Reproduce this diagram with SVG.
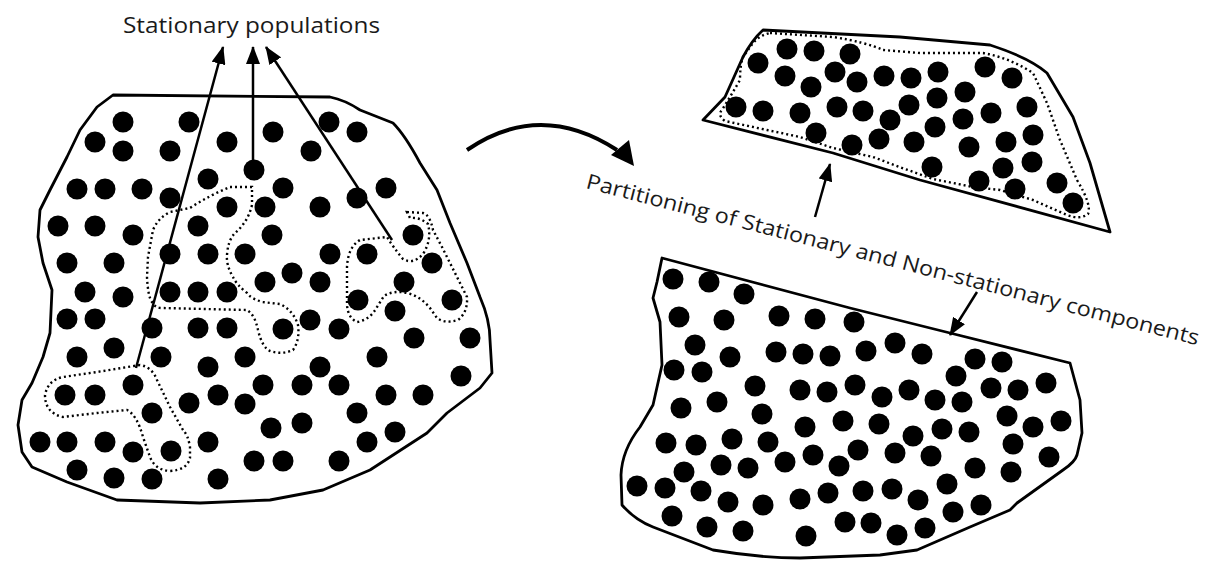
<svg xmlns="http://www.w3.org/2000/svg" width="1211" height="562" viewBox="0 0 1211 562">
<style>
.d{fill:#000}
.ol{fill:none;stroke:#000;stroke-width:2.8;stroke-linejoin:round}
.dt{fill:none;stroke:#000;stroke-width:2.4;stroke-dasharray:2 3}
.ar{fill:none;stroke:#000;stroke-width:2.5}
.tx{font-family:"Open Sans","Noto Sans",sans-serif;fill:#1a1a1a}
</style>
<defs>
<marker id="ah" viewBox="0 0 18 14" refX="17" refY="7" markerWidth="18" markerHeight="14" markerUnits="userSpaceOnUse" orient="auto"><path d="M0,0 L18,7 L0,14 z" fill="#000"/></marker>
</defs>
<rect width="1211" height="562" fill="#fff"/>

<g id="left-region">
<path class="ol" d="M113,95 L330,97 Q345,100 360,110 L393,123 Q405,135 420,163 L437,190 L450,223 L467,263 L480,297 Q490,320 490,340 L492,373 L480,388 L447,413 L427,433 L370,470 L323,490 L270,500 L200,503 L117,500 L67,482 L32,467 L22,452 L18,425 L22,400 L32,383 L43,357 L50,333 L52,290 L43,263 L38,237 L40,210 L50,190 L67,157 L80,130 L97,107 Z"/>
<path class="dt" d="M252,187 L230,187 Q210,195 190,208 L170,212 Q158,218 153,230 L148,257 L147,277 Q148,297 152,302 Q155,308 162,308 L247,310 Q255,315 258,330 Q262,347 270,351 Q282,355 293,350 Q300,340 298,325 Q293,310 280,304 L262,302 Q250,298 247,293 Q236,284 233,277 Q226,265 227,255 Q228,240 235,233 Q248,222 252,205 Z"/>
<path class="dt" d="M407,212 L423,213 Q430,215 433,230 L442,247 L450,263 L460,283 L467,297 Q468,312 458,320 Q445,324 437,318 L430,308 Q420,296 407,293 Q393,290 384,296 L377,307 Q370,320 357,322 Q348,318 347,305 L347,267 Q348,247 360,240 L387,237 Q393,247 403,259 Q413,265 423,254 Q432,240 428,224 Q420,217 410,218 Z"/>
<path class="dt" d="M140,365 L97,372 L63,377 Q48,380 45,395 Q45,413 63,417 L97,413 L127,410 Q137,415 143,437 L150,457 Q155,470 170,471 Q187,470 190,458 L190,447 Q188,435 183,430 L170,407 L157,380 Q152,367 140,365 Z"/>
<g class="d">
<circle cx="123" cy="122" r="10.5"/><circle cx="189" cy="122" r="10.5"/><circle cx="95" cy="142" r="10.5"/><circle cx="123" cy="151" r="10.5"/>
<circle cx="170" cy="151" r="10.5"/><circle cx="227" cy="142" r="10.5"/><circle cx="273" cy="132" r="10.5"/><circle cx="329" cy="122" r="10.5"/>
<circle cx="357" cy="132" r="10.5"/><circle cx="311" cy="151" r="10.5"/><circle cx="254" cy="170" r="10.5"/><circle cx="208" cy="179" r="10.5"/>
<circle cx="77" cy="189" r="10.5"/><circle cx="105" cy="189" r="10.5"/><circle cx="142" cy="189" r="10.5"/><circle cx="170" cy="198" r="10.5"/>
<circle cx="227" cy="207" r="10.5"/><circle cx="265" cy="207" r="10.5"/><circle cx="283" cy="188" r="10.5"/><circle cx="320" cy="207" r="10.5"/>
<circle cx="357" cy="198" r="10.5"/><circle cx="386" cy="188" r="10.5"/><circle cx="58" cy="226" r="10.5"/><circle cx="95" cy="226" r="10.5"/>
<circle cx="133" cy="235" r="10.5"/><circle cx="198" cy="226" r="10.5"/><circle cx="272" cy="235" r="10.5"/><circle cx="413" cy="235" r="10.5"/>
<circle cx="170" cy="254" r="10.5"/><circle cx="208" cy="254" r="10.5"/><circle cx="245" cy="254" r="10.5"/><circle cx="330" cy="254" r="10.5"/>
<circle cx="367" cy="254" r="10.5"/><circle cx="67" cy="263" r="10.5"/><circle cx="114" cy="263" r="10.5"/><circle cx="432" cy="263" r="10.5"/>
<circle cx="292" cy="273" r="10.5"/><circle cx="265" cy="282" r="10.5"/><circle cx="320" cy="282" r="10.5"/><circle cx="404" cy="282" r="10.5"/>
<circle cx="85" cy="292" r="10.5"/><circle cx="123" cy="297" r="10.5"/><circle cx="170" cy="292" r="10.5"/><circle cx="198" cy="292" r="10.5"/>
<circle cx="227" cy="292" r="10.5"/><circle cx="358" cy="300" r="10.5"/><circle cx="395" cy="311" r="10.5"/><circle cx="452" cy="300" r="10.5"/>
<circle cx="67" cy="319" r="10.5"/><circle cx="95" cy="319" r="10.5"/><circle cx="152" cy="328" r="10.5"/><circle cx="198" cy="328" r="10.5"/>
<circle cx="227" cy="328" r="10.5"/><circle cx="310" cy="320" r="10.5"/><circle cx="283" cy="329" r="10.5"/><circle cx="339" cy="329" r="10.5"/>
<circle cx="414" cy="338" r="10.5"/><circle cx="470" cy="338" r="10.5"/><circle cx="77" cy="357" r="10.5"/><circle cx="114" cy="348" r="10.5"/>
<circle cx="161" cy="357" r="10.5"/><circle cx="208" cy="367" r="10.5"/><circle cx="245" cy="357" r="10.5"/><circle cx="377" cy="357" r="10.5"/>
<circle cx="320" cy="367" r="10.5"/><circle cx="461" cy="376" r="10.5"/><circle cx="133" cy="385" r="10.5"/><circle cx="263" cy="385" r="10.5"/>
<circle cx="302" cy="385" r="10.5"/><circle cx="339" cy="385" r="10.5"/><circle cx="65" cy="395" r="10.5"/><circle cx="95" cy="395" r="10.5"/>
<circle cx="189" cy="403" r="10.5"/><circle cx="218" cy="395" r="10.5"/><circle cx="245" cy="404" r="10.5"/><circle cx="386" cy="395" r="10.5"/>
<circle cx="423" cy="395" r="10.5"/><circle cx="152" cy="413" r="10.5"/><circle cx="357" cy="413" r="10.5"/><circle cx="271" cy="428" r="10.5"/>
<circle cx="302" cy="423" r="10.5"/><circle cx="395" cy="432" r="10.5"/><circle cx="40" cy="442" r="10.5"/><circle cx="67" cy="442" r="10.5"/>
<circle cx="105" cy="442" r="10.5"/><circle cx="133" cy="452" r="10.5"/><circle cx="171" cy="451" r="10.5"/><circle cx="208" cy="442" r="10.5"/>
<circle cx="367" cy="442" r="10.5"/><circle cx="254" cy="461" r="10.5"/><circle cx="283" cy="461" r="10.5"/><circle cx="339" cy="461" r="10.5"/>
<circle cx="77" cy="470" r="10.5"/><circle cx="114" cy="478" r="10.5"/><circle cx="152" cy="479" r="10.5"/><circle cx="218" cy="479" r="10.5"/>
</g>
</g>

<g id="top-right-region">
<path class="ol" d="M703,120 L725,97 L743,57 Q752,40 763,30 L900,37 L990,45 Q1030,58 1047,73 L1073,117 L1090,163 L1110,232 Q1000,202 920,180 L833,153 Z"/>
<path class="dt" d="M770,33 L833,37 Q865,42 883,50 L920,53 L983,53 Q1010,58 1033,73 L1047,103 L1060,140 L1077,180 Q1092,205 1088,214 Q1080,220 1067,215 L1033,200 L1000,190 L973,187 L933,179 L905,169 L873,157 L833,148 L800,137 L767,130 L725,121 Q717,115 722,110 L730,97 L740,80 Q740,65 743,57 L753,43 Q760,35 770,33 Z"/>
<g class="d">
<circle cx="787" cy="49" r="10.5"/><circle cx="814" cy="51" r="10.5"/><circle cx="850" cy="54" r="10.5"/><circle cx="758" cy="63" r="10.5"/>
<circle cx="785" cy="76" r="10.5"/><circle cx="835" cy="72" r="10.5"/><circle cx="857" cy="82" r="10.5"/><circle cx="811" cy="87" r="10.5"/>
<circle cx="884" cy="76" r="10.5"/><circle cx="911" cy="78" r="10.5"/><circle cx="736" cy="107" r="10.5"/><circle cx="763" cy="111" r="10.5"/>
<circle cx="800" cy="113" r="10.5"/><circle cx="837" cy="107" r="10.5"/><circle cx="863" cy="111" r="10.5"/><circle cx="890" cy="120" r="10.5"/>
<circle cx="909" cy="105" r="10.5"/><circle cx="816" cy="133" r="10.5"/><circle cx="852" cy="145" r="10.5"/><circle cx="879" cy="139" r="10.5"/>
<circle cx="914" cy="142" r="10.5"/><circle cx="938" cy="72" r="10.5"/><circle cx="985" cy="67" r="10.5"/><circle cx="1012" cy="78" r="10.5"/>
<circle cx="937" cy="98" r="10.5"/><circle cx="965" cy="92" r="10.5"/><circle cx="991" cy="113" r="10.5"/><circle cx="1027" cy="107" r="10.5"/>
<circle cx="935" cy="127" r="10.5"/><circle cx="963" cy="119" r="10.5"/><circle cx="969" cy="147" r="10.5"/><circle cx="1006" cy="142" r="10.5"/>
<circle cx="1033" cy="135" r="10.5"/><circle cx="932" cy="167" r="10.5"/><circle cx="979" cy="181" r="10.5"/><circle cx="1003" cy="168" r="10.5"/>
<circle cx="1032" cy="162" r="10.5"/><circle cx="1015" cy="189" r="10.5"/><circle cx="1057" cy="183" r="10.5"/><circle cx="1073" cy="203" r="10.5"/>
</g>
</g>

<g id="bottom-right-region">
<path class="ol" d="M662,258 L657,282 L653,298 L660,322 L662,365 L653,405 L640,427 Q622,450 621,475 L622,505 Q635,520 653,527 L713,550 Q760,558 800,558 L880,555 L917,550 L970,527 L1010,510 L1017,503 L1063,470 Q1075,462 1077,455 L1082,433 L1080,400 L1070,363 L950,333 L850,308 Z"/>
<g class="d">
<circle cx="673" cy="279" r="10.5"/><circle cx="709" cy="282" r="10.5"/><circle cx="744" cy="294" r="10.5"/><circle cx="679" cy="317" r="10.5"/>
<circle cx="724" cy="320" r="10.5"/><circle cx="779" cy="316" r="10.5"/><circle cx="815" cy="319" r="10.5"/><circle cx="854" cy="322" r="10.5"/>
<circle cx="695" cy="345" r="10.5"/><circle cx="730" cy="357" r="10.5"/><circle cx="776" cy="352" r="10.5"/><circle cx="803" cy="354" r="10.5"/>
<circle cx="830" cy="356" r="10.5"/><circle cx="866" cy="351" r="10.5"/><circle cx="674" cy="370" r="10.5"/><circle cx="702" cy="372" r="10.5"/>
<circle cx="755" cy="386" r="10.5"/><circle cx="800" cy="390" r="10.5"/><circle cx="827" cy="392" r="10.5"/><circle cx="855" cy="385" r="10.5"/>
<circle cx="681" cy="408" r="10.5"/><circle cx="717" cy="402" r="10.5"/><circle cx="762" cy="414" r="10.5"/><circle cx="895" cy="343" r="10.5"/>
<circle cx="922" cy="354" r="10.5"/><circle cx="975" cy="359" r="10.5"/><circle cx="1002" cy="362" r="10.5"/><circle cx="956" cy="376" r="10.5"/>
<circle cx="882" cy="397" r="10.5"/><circle cx="909" cy="390" r="10.5"/><circle cx="935" cy="400" r="10.5"/><circle cx="962" cy="402" r="10.5"/>
<circle cx="991" cy="388" r="10.5"/><circle cx="1018" cy="390" r="10.5"/><circle cx="1046" cy="383" r="10.5"/><circle cx="805" cy="427" r="10.5"/>
<circle cx="843" cy="421" r="10.5"/><circle cx="666" cy="443" r="10.5"/><circle cx="696" cy="445" r="10.5"/><circle cx="732" cy="439" r="10.5"/>
<circle cx="768" cy="442" r="10.5"/><circle cx="813" cy="455" r="10.5"/><circle cx="858" cy="450" r="10.5"/><circle cx="785" cy="462" r="10.5"/>
<circle cx="684" cy="472" r="10.5"/><circle cx="721" cy="465" r="10.5"/><circle cx="748" cy="468" r="10.5"/><circle cx="839" cy="466" r="10.5"/>
<circle cx="637" cy="486" r="10.5"/><circle cx="665" cy="488" r="10.5"/><circle cx="701" cy="491" r="10.5"/><circle cx="728" cy="502" r="10.5"/>
<circle cx="763" cy="505" r="10.5"/><circle cx="800" cy="499" r="10.5"/><circle cx="828" cy="493" r="10.5"/><circle cx="672" cy="516" r="10.5"/>
<circle cx="707" cy="527" r="10.5"/><circle cx="743" cy="531" r="10.5"/><circle cx="806" cy="536" r="10.5"/><circle cx="845" cy="522" r="10.5"/>
<circle cx="879" cy="424" r="10.5"/><circle cx="942" cy="429" r="10.5"/><circle cx="969" cy="432" r="10.5"/><circle cx="913" cy="436" r="10.5"/>
<circle cx="1007" cy="416" r="10.5"/><circle cx="1033" cy="427" r="10.5"/><circle cx="1061" cy="421" r="10.5"/><circle cx="895" cy="453" r="10.5"/>
<circle cx="931" cy="456" r="10.5"/><circle cx="1013" cy="444" r="10.5"/><circle cx="1049" cy="457" r="10.5"/><circle cx="975" cy="468" r="10.5"/>
<circle cx="1011" cy="472" r="10.5"/><circle cx="947" cy="484" r="10.5"/><circle cx="863" cy="491" r="10.5"/><circle cx="892" cy="489" r="10.5"/>
<circle cx="918" cy="500" r="10.5"/><circle cx="953" cy="512" r="10.5"/><circle cx="981" cy="505" r="10.5"/><circle cx="871" cy="523" r="10.5"/>
<circle cx="897" cy="535" r="10.5"/><circle cx="925" cy="528" r="10.5"/>
</g>
</g>

<g id="label-stationary">
<text class="tx" x="123" y="33" font-size="22" textLength="257" lengthAdjust="spacingAndGlyphs">Stationary populations</text>
</g>
<g id="label-partitioning">
<text class="tx" x="0" y="0" font-size="21" textLength="632" lengthAdjust="spacingAndGlyphs" transform="translate(585,188) rotate(14.4)">Partitioning of Stationary and Non-stationary components</text>
</g>

<g id="connectors">
<line class="ar" x1="136" y1="368" x2="223" y2="47" marker-end="url(#ah)"/>
<line class="ar" x1="253" y1="168" x2="253" y2="47" marker-end="url(#ah)"/>
<line class="ar" x1="392" y1="240" x2="266" y2="47" marker-end="url(#ah)"/>
<path d="M467,150 Q540,100 617,150" fill="none" stroke="#000" stroke-width="4"/>
<polygon points="611,155 629,140 634,166" fill="#000"/>
<line class="ar" x1="815" y1="217" x2="830" y2="164" marker-end="url(#ah)"/>
<line class="ar" x1="977" y1="292" x2="950" y2="335" marker-end="url(#ah)"/>
</g>
</svg>
